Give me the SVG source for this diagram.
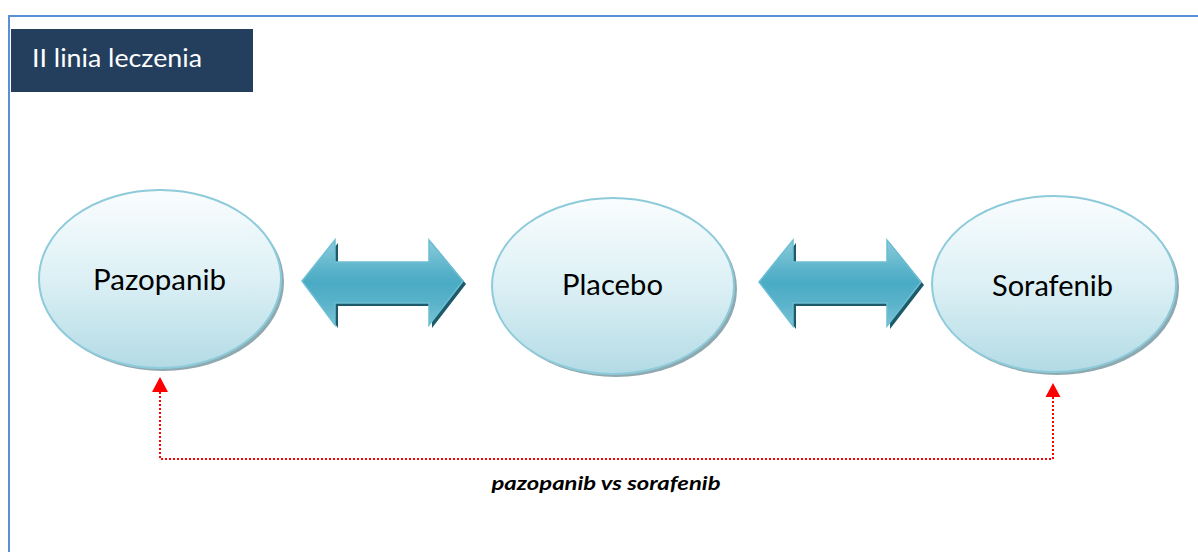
<svg xmlns="http://www.w3.org/2000/svg" width="1198" height="552" viewBox="0 0 1198 552">
<style>
.frame{fill:none;stroke:#5b8fd8;stroke-width:2}
.ell{fill:url(#ellGrad);stroke:#8ecbda;stroke-width:2}
.ellsh{fill:#8fa9b0}
.lbl{font-family:Lato,"Liberation Sans",sans-serif;fill:#000;text-anchor:middle}
.arr{fill:url(#arrGrad);stroke:#6cbfd3;stroke-width:1.5;stroke-linejoin:miter}
.arrsh{fill:#1f5a6b}
.conn{fill:none;stroke:#ff0000;stroke-width:2;stroke-dasharray:2 2}
</style>
<defs>
<linearGradient id="ellGrad" x1="0" y1="0" x2="0" y2="1">
<stop offset="0" stop-color="#fafdfe"/>
<stop offset="0.5" stop-color="#dcf0f5"/>
<stop offset="1" stop-color="#b3dbe5"/>
</linearGradient>
<linearGradient id="arrGrad" x1="0" y1="0" x2="0" y2="1">
<stop offset="0" stop-color="#8ccbdb"/>
<stop offset="0.35" stop-color="#5ab3ca"/>
<stop offset="0.5" stop-color="#4aabc4"/>
<stop offset="0.75" stop-color="#5ab3ca"/>
<stop offset="1" stop-color="#7cc3d6"/>
</linearGradient>
</defs>
<rect width="1198" height="552" fill="#ffffff"/>
<g id="frame">
<path class="frame" d="M9,552 L9,16 L1198,16"/>
</g>
<g id="title">
<rect x="11" y="29" width="242" height="63" fill="#243f5e"/>
<text x="32" y="67" font-family="Lato,'Liberation Sans',sans-serif" font-size="25" fill="#ffffff" textLength="170" lengthAdjust="spacingAndGlyphs">II linia leczenia</text>
</g>
<g id="connectors">
<path class="arrsh" d="M305,284 L338,243 L338,265 L432,265 L432,243 L466,284 L432,328 L432,306 L338,306 L338,328 Z"/>
<path class="arr" d="M302,281 L335,240 L335,262 L429,262 L429,240 L463,281 L429,325 L429,303 L335,303 L335,325 Z"/>
<path class="arrsh" d="M762,285 L796,243 L796,265 L890,265 L890,243 L924,285 L890,329 L890,306 L796,306 L796,329 Z"/>
<path class="arr" d="M759,282 L793,240 L793,262 L887,262 L887,240 L921,282 L887,326 L887,303 L793,303 L793,326 Z"/>
<path class="conn" d="M160,392 L160,459 L1053,459 L1053,397"/>
<polygon points="160,377 152,392 168,392" fill="#ff0000"/>
<polygon points="1053,383 1045.5,397 1060.5,397" fill="#ff0000"/>
<text x="606" y="490" font-family="Lato,'Liberation Sans',sans-serif" font-size="18.5" font-weight="bold" font-style="italic" text-anchor="middle" textLength="229" lengthAdjust="spacingAndGlyphs">pazopanib vs sorafenib</text>
</g>
<g id="pazopanib">
<ellipse class="ellsh" cx="163" cy="282" rx="121" ry="89"/>
<ellipse class="ell" cx="160" cy="279" rx="121" ry="89"/>
<text class="lbl" x="159.5" y="290" font-size="28" textLength="133" lengthAdjust="spacingAndGlyphs">Pazopanib</text>
</g>
<g id="placebo">
<ellipse class="ellsh" cx="616" cy="289" rx="121" ry="88"/>
<ellipse class="ell" cx="613" cy="286" rx="121" ry="88"/>
<text class="lbl" x="612.5" y="295" font-size="28" textLength="101" lengthAdjust="spacingAndGlyphs">Placebo</text>
</g>
<g id="sorafenib">
<ellipse class="ellsh" cx="1057" cy="287" rx="122" ry="88"/>
<ellipse class="ell" cx="1054" cy="284" rx="122" ry="88"/>
<text class="lbl" x="1052.5" y="296" font-size="28" textLength="121" lengthAdjust="spacingAndGlyphs">Sorafenib</text>
</g>
</svg>
